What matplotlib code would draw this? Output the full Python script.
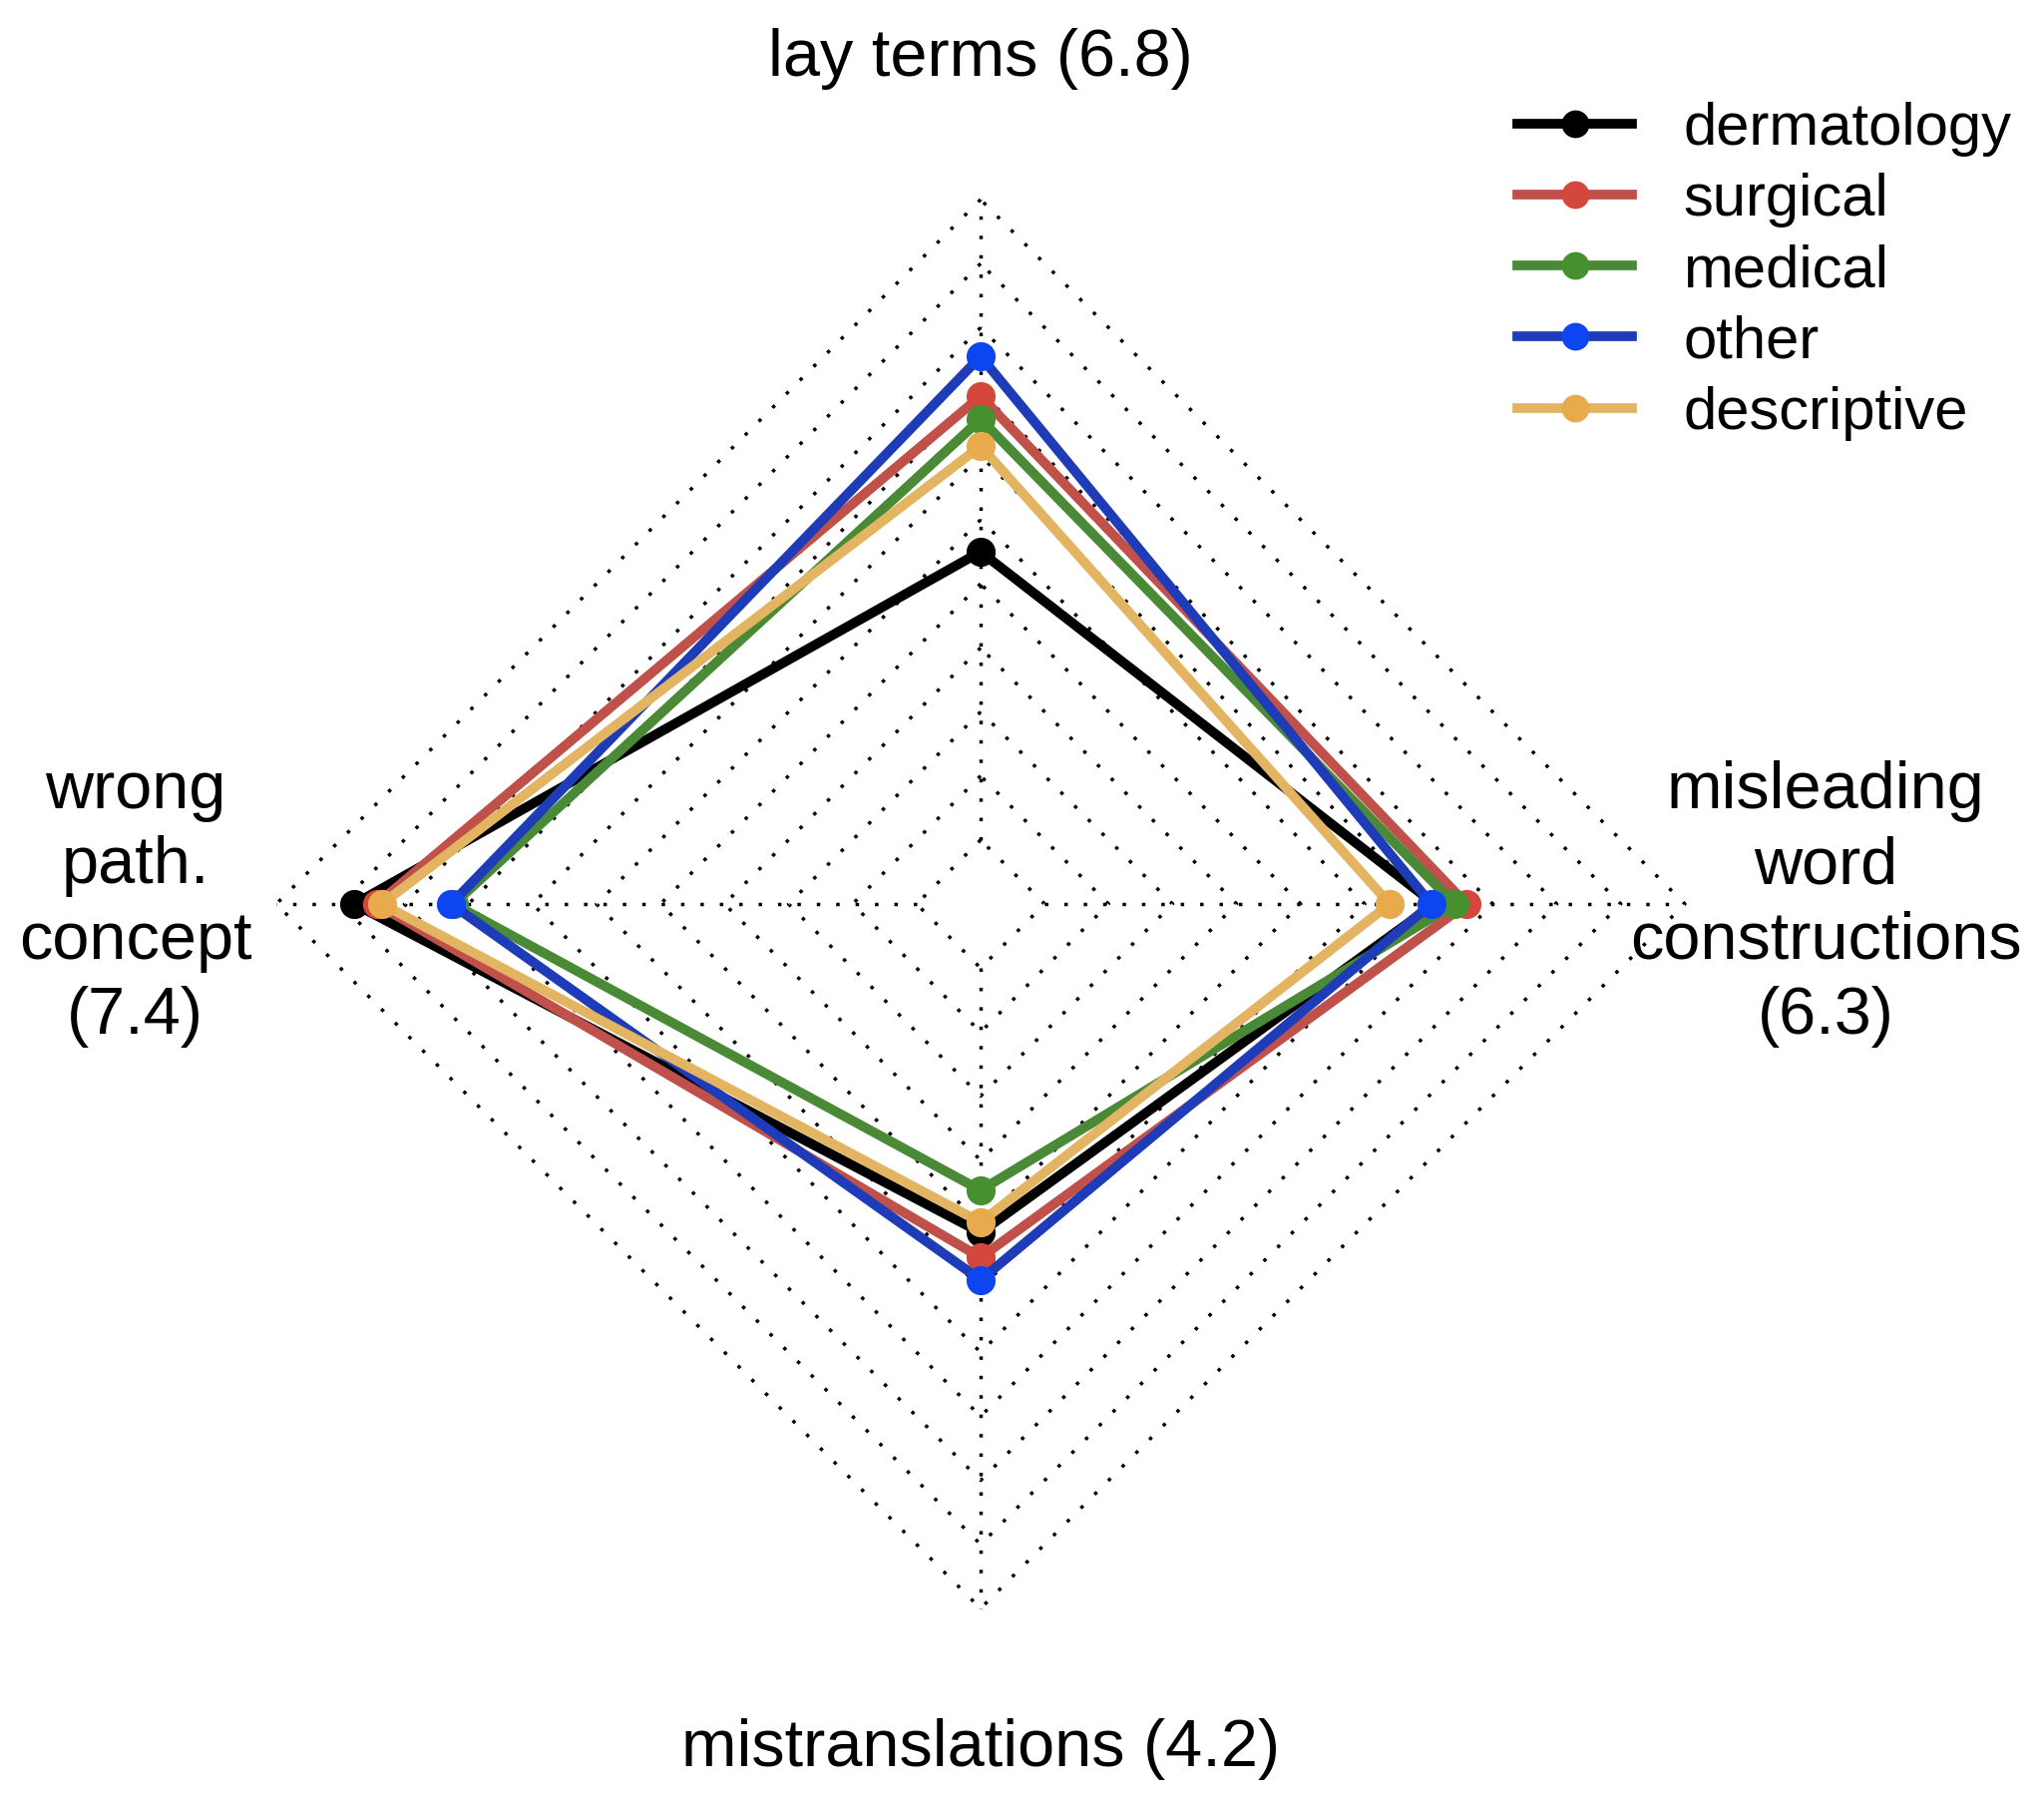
import numpy as np
import matplotlib
matplotlib.use('Agg')
import matplotlib.pyplot as plt
from matplotlib.lines import Line2D

plt.rcParams['font.family'] = ['Liberation Sans', 'DejaVu Sans']

# %% data (values on a 0..10 scale, 10 segments plus the inner ring)

axis_labels = ['lay terms (6.8)',
               'wrong\npath.\nconcept\n(7.4)',
               'mistranslations (4.2)',
               'misleading\nword\nconstructions\n(6.3)']
groups = ['dermatology', 'surgical', 'medical', 'other', 'descriptive']
dermatology = [4.50, 8.78, 4.13, 6.09]
surgical = [6.93, 8.43, 4.52, 6.59]
medical = [6.57, 7.23, 3.47, 6.40]
other = [7.55, 7.27, 4.87, 6.04]
descriptive = [6.15, 8.35, 3.97, 5.39]
series = [dermatology, surgical, medical, other, descriptive]

vmin, vmax = 0, 10
seg = 10

line_cols = ['#000000', '#c0504a', '#4a8a36', '#1e3cb8', '#e3b462']
mark_cols = ['#000000', '#d4473c', '#47902f', '#0d45f0', '#e8aa4c']

# %% figure

fig = plt.figure(figsize=(20.49, 18.11), dpi=100)
ax = fig.add_axes([0, 0, 1, 1])
R = 706.0
cx, cy = 983.0, 906.0
ax.set_xlim(-cx / R, (2049 - cx) / R)
ax.set_ylim(-(1811 - cy) / R, cy / R)
ax.axis('off')

n = len(axis_labels)
ang = np.pi / 2 + 2 * np.pi * np.arange(n) / n
xx = np.cos(ang)
yy = np.sin(ang)

dots = (0, (1.0, 4.6))

# grid rings
for k in range(1, seg + 2):
    r = k / (seg + 1)
    ax.plot(np.append(xx, xx[0]) * r, np.append(yy, yy[0]) * r,
            color='black', lw=2.5, linestyle=dots, zorder=1)

# spokes
for i in range(n):
    r0 = 1 / (seg + 1)
    ax.plot([xx[i] * r0, xx[i]], [yy[i] * r0, yy[i]],
            color='black', lw=2.5, linestyle=dots, zorder=1)

# series
for j, vals in enumerate(series):
    v = np.array(vals)
    r = ((v - vmin) / (vmax - vmin) * seg + 1) / (seg + 1)
    px = np.append(xx * r, xx[0] * r[0])
    py = np.append(yy * r, yy[0] * r[0])
    ax.plot(px, py, color=line_cols[j], lw=7, zorder=2 + j,
            solid_joinstyle='round')
    ax.plot(xx * r, yy * r, 'o', color=mark_cols[j], ms=21,
            markeredgewidth=0, zorder=2 + j)

# axis labels
for i in range(n):
    ax.text(xx[i] * 1.2, yy[i] * 1.2, axis_labels[i], ha='center',
            va='center', fontsize=48, linespacing=1.28)

# legend
handles = [Line2D([0], [0], color=line_cols[j], lw=7, marker='o', ms=20,
                  markerfacecolor=mark_cols[j], markeredgewidth=0)
           for j in range(len(groups))]
ax.legend(handles, groups, loc='upper left',
          bbox_to_anchor=(1521 / 2049, 1 - 102 / 1811),
          bbox_transform=fig.transFigure, frameon=False, fontsize=43,
          handlelength=1.93, handletextpad=0.85, labelspacing=0.27,
          borderpad=0, borderaxespad=0)

plt.savefig('out.png', dpi=100)
